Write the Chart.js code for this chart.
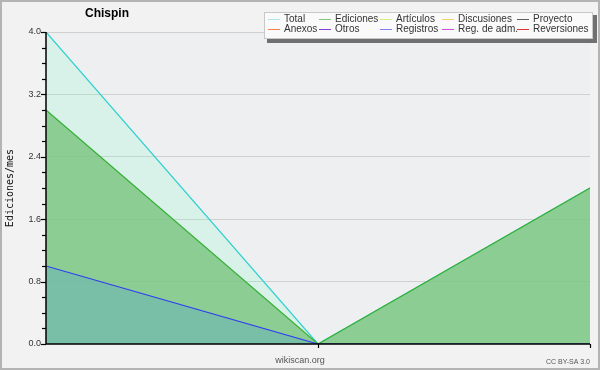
<!DOCTYPE html>
<html>
<head>
<meta charset="utf-8">
<script src="https://cdn.jsdelivr.net/npm/chart.js@4"></script>
<style>
  html, body { margin: 0; padding: 0; background: #f2f2f2; }
  #wrap { width: 600px; height: 370px; position: relative; }
</style>
</head>
<body>
<div id="wrap"><canvas id="chart" width="600" height="370"></canvas></div>
<script>
// === Datos ===
const periods = ["p1", "p2", "p3"];
const totalVals = [4, 0, 2];
const edicionesVals = [3, 0, 2];
const registrosVals = [1, 0, 0];

const legendNames = [
  ["Total", "Ediciones", "Artículos", "Discusiones", "Proyecto"],
  ["Anexos", "Otros", "Registros", "Reg. de adm.", "Reversiones"]
];
const legendColors = [
  ["#a8e8e8", "#80c880", "#d0f080", "#f8d070", "#606060"],
  ["#f08050", "#8040d0", "#8080f0", "#d050e0", "#e03030"]
];
const yMax = 4;

// === Decoración ===
const decor = {
  id: "decor",
  beforeDraw(chart) {
    const { ctx, chartArea: a } = chart;
    ctx.save();
    ctx.fillStyle = "#f2f2f2";
    ctx.fillRect(0, 0, chart.width, chart.height);
    ctx.fillStyle = "#eeeff1";
    ctx.fillRect(a.left, a.top, a.right - a.left, a.bottom - a.top);
    ctx.restore();
  },
  afterDraw(chart) {
    const { ctx, chartArea: a } = chart;
    const ys = chart.scales.y, xs = chart.scales.x;
    ctx.save();

    // ejes
    ctx.strokeStyle = "#000";
    ctx.lineWidth = 1.5;
    ctx.beginPath();
    ctx.moveTo(a.left, a.top);
    ctx.lineTo(a.left, a.bottom);
    ctx.lineTo(a.right, a.bottom);
    ctx.stroke();

    // marcas eje y
    ctx.lineWidth = 1.2;
    ys.ticks.forEach(t => {
      const major = Math.round(t.value * 5) % 4 === 0;
      const y = Math.round(ys.getPixelForValue(t.value)) + 0.5;
      ctx.beginPath();
      ctx.moveTo(a.left - (major ? 5 : 4), y);
      ctx.lineTo(a.left, y);
      ctx.stroke();
    });
    // marcas eje x
    periods.forEach((p, i) => {
      if (i === 0) return;
      const x = Math.round(xs.getPixelForValue(i)) + 0.5;
      ctx.beginPath();
      ctx.moveTo(x, a.bottom);
      ctx.lineTo(x, a.bottom + 4);
      ctx.stroke();
    });

    // título
    ctx.fillStyle = "#000";
    ctx.font = "bold 12px 'Liberation Sans'";
    ctx.textBaseline = "middle";
    ctx.textAlign = "left";
    ctx.fillText("Chispin", 85, 14);

    // etiqueta eje y
    ctx.save();
    ctx.translate(10, 188);
    ctx.rotate(-Math.PI / 2);
    ctx.textAlign = "center";
    ctx.font = "10px 'DejaVu Sans Mono'";
    ctx.fillStyle = "#111";
    ctx.fillText("Ediciones/mes", 0, 0);
    ctx.restore();

    // pie
    ctx.fillStyle = "#555";
    ctx.font = "9px 'Liberation Sans'";
    ctx.textAlign = "center";
    ctx.fillText("wikiscan.org", 300, 361);
    ctx.font = "7px 'Liberation Sans'";
    ctx.textAlign = "right";
    ctx.fillText("CC BY-SA 3.0", 590, 362);

    // leyenda
    ctx.fillStyle = "#707070";
    ctx.fillRect(267, 15, 330, 28);
    ctx.fillStyle = "#fafafa";
    ctx.fillRect(264, 12, 329, 27);
    ctx.strokeStyle = "#c8c8c8";
    ctx.lineWidth = 1;
    ctx.strokeRect(264.5, 12.5, 328, 26);
    const colX = [268, 319, 380, 442, 517];
    const rowY = [19.5, 29.5];
    ctx.font = "10px 'Liberation Sans'";
    ctx.textAlign = "left";
    legendNames.forEach((row, r) => {
      row.forEach((name, c) => {
        ctx.strokeStyle = legendColors[r][c];
        ctx.beginPath();
        ctx.moveTo(colX[c], rowY[r]);
        ctx.lineTo(colX[c] + 12, rowY[r]);
        ctx.stroke();
        ctx.fillStyle = "#333";
        ctx.fillText(name, colX[c] + 16, rowY[r]);
      });
    });

    // borde
    ctx.strokeStyle = "#b4b4b4";
    ctx.lineWidth = 2;
    ctx.strokeRect(1, 1, chart.width - 2, chart.height - 2);
    ctx.restore();
  }
};

// === Gráfico ===
new Chart(document.getElementById("chart"), {
  type: "line",
  data: {
    labels: periods,
    datasets: [
      { label: "Registros", data: registrosVals, borderColor: "#3040f0", backgroundColor: "rgba(80,160,220,0.3)", fill: "origin", order: 1 },
      { label: "Ediciones", data: edicionesVals, borderColor: "#38b038", backgroundColor: "rgba(120,195,125,0.8)", fill: "origin", order: 2 },
      { label: "Total", data: totalVals, borderColor: "#30d0d0", backgroundColor: "rgba(128,254,206,0.2)", fill: "origin", order: 3 }
    ]
  },
  options: {
    responsive: false,
    animation: false,
    layout: { padding: { top: 32, right: 10, left: 0, bottom: 0 } },
    elements: { point: { radius: 0 }, line: { borderWidth: 1.2, tension: 0 } },
    plugins: { legend: { display: false }, tooltip: { enabled: false }, title: { display: false } },
    scales: {
      x: {
        offset: false,
        grid: { display: false, drawTicks: false },
        border: { display: false },
        ticks: { display: false },
        afterFit: s => { s.height = 26; }
      },
      y: {
        min: 0,
        max: yMax,
        ticks: {
          stepSize: 0.2,
          padding: 5,
          color: "#333",
          font: { family: "Liberation Sans", size: 9 },
          callback: v => (Math.round(v * 5) % 4 === 0 ? v.toFixed(1) : "")
        },
        grid: {
          drawTicks: false,
          color: c => (Math.round(c.tick.value * 5) % 4 === 0 && c.tick.value > 0 ? "#d0d0d0" : "rgba(0,0,0,0)")
        },
        border: { display: false },
        afterFit: s => { s.width = 46; }
      }
    }
  },
  plugins: [decor]
});
</script>
</body>
</html>
